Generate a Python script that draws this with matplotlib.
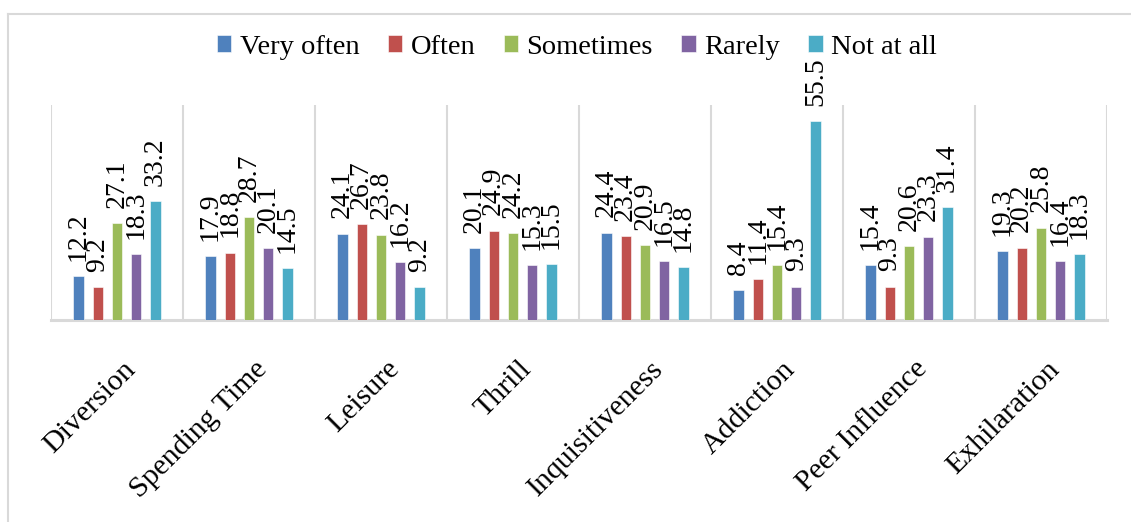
import numpy as np
import matplotlib
matplotlib.use("Agg")
import matplotlib.pyplot as plt
from matplotlib.lines import Line2D
from matplotlib.transforms import ScaledTranslation

categories = ["Diversion", "Spending Time", "Leisure", "Thrill",
              "Inquisitiveness", "Addiction", "Peer Influence", "Exhilaration"]
series_names = ["Very often", "Often", "Sometimes", "Rarely", "Not at all"]
very_often = [12.2, 17.9, 24.1, 20.1, 24.4, 8.4, 15.4, 19.3]
often = [9.2, 18.8, 26.7, 24.9, 23.4, 11.4, 9.3, 20.2]
sometimes = [27.1, 28.7, 23.8, 24.2, 20.9, 15.4, 20.6, 25.8]
rarely = [18.3, 20.1, 16.2, 15.3, 16.5, 9.3, 23.3, 16.4]
not_at_all = [33.2, 14.5, 9.2, 15.5, 14.8, 55.5, 31.4, 18.3]
colors = ["#4F81BD", "#C0504D", "#9BBB59", "#8064A2", "#4BACC6"]

series = [very_often, often, sometimes, rarely, not_at_all]

plt.rcParams["font.family"] = ["Liberation Serif", "DejaVu Serif"]
FS_VAL = 20
FS_TXT = 21.5
FS_LEG = 20.5

W, H = 1131, 522
fig = plt.figure(figsize=(W / 100, H / 100), dpi=100)
ax = fig.add_axes([51 / W, 1 - 320 / H, (1107 - 51) / W, (320 - 105) / H])

x = np.arange(len(categories))
slot = 0.146
bar_w = 0.078
n = len(series)
for i, (name, vals, c) in enumerate(zip(series_names, series, colors)):
    pos = x + (i - (n - 1) / 2) * slot
    bars = ax.bar(pos, vals, width=bar_w, color=c, label=name,
                  edgecolor="white", linewidth=0.4, zorder=3)
    for b, v in zip(bars, vals):
        ax.annotate(f"{v:.1f}", (b.get_x() + b.get_width() / 2, v),
                    xytext=(0, 11), textcoords="offset points",
                    rotation=90, ha="center", va="bottom", fontsize=FS_VAL,
                    color="black", zorder=4, annotation_clip=False)

ax.set_xlim(-0.5, len(categories) - 0.5)
ax.set_ylim(0, 60)
ax.set_yticks([])

# category separators
for b in np.arange(len(categories) + 1) - 0.5:
    ax.axvline(b, color="#D9D9D9", lw=1.5, zorder=1)

for s in ["top", "right", "left"]:
    ax.spines[s].set_visible(False)
ax.spines["bottom"].set_color("#D9D9D9")
ax.spines["bottom"].set_linewidth(2.2)

ax.set_xticks(x)
ax.set_xticklabels(categories, rotation=45, ha="right", va="top",
                   rotation_mode="anchor", fontsize=FS_TXT)
ax.tick_params(axis="x", length=0, pad=26)
offset = ScaledTranslation(5 / 100, 0, fig.dpi_scale_trans)
for lbl in ax.get_xticklabels():
    lbl.set_transform(lbl.get_transform() + offset)

fig.legend(loc="center", bbox_to_anchor=(0.51, 1 - 47 / H), ncol=5,
           frameon=False, fontsize=FS_LEG, handlelength=0.5, handleheight=0.5,
           handletextpad=0.3, columnspacing=1.0, borderpad=0)

# outer chart border
fig.add_artist(Line2D([8 / W, 8 / W], [0, 1 - 14 / H], color="#D9D9D9", lw=1.5))
fig.add_artist(Line2D([8 / W, 1], [1 - 14 / H, 1 - 14 / H], color="#D9D9D9", lw=1.5))

fig.savefig("out.png", dpi=100, facecolor="white")
